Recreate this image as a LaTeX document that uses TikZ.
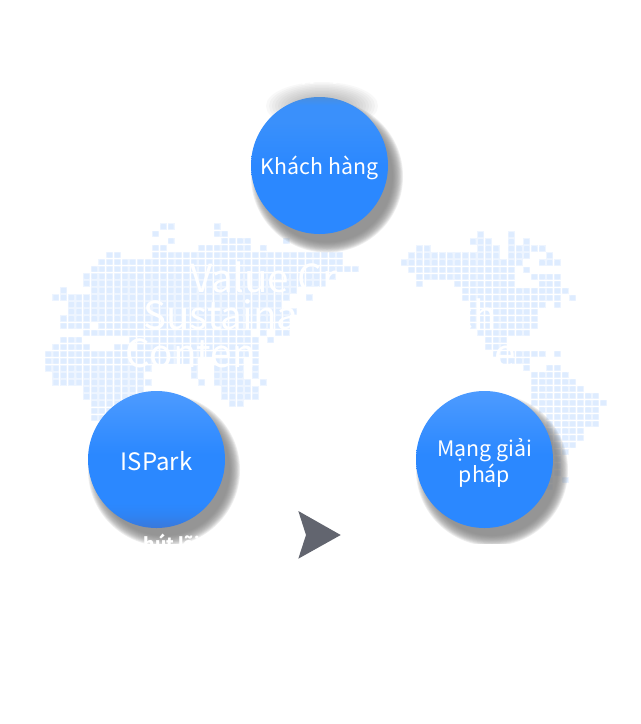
\documentclass[tikz,border=0pt]{standalone}
\usepackage{fontspec}
\setmainfont{Noto Sans CJK KR}
\definecolor{cellcore}{HTML}{DEECFF}
\definecolor{celledge}{HTML}{EEF5FF}
\definecolor{shadowgray}{HTML}{808080}
\definecolor{arrowgray}{HTML}{62656F}
\definecolor{ca}{HTML}{2B88FF}
\definecolor{cb}{HTML}{3A90FB}
\definecolor{cc}{HTML}{4D9BFF}
\definecolor{cd}{HTML}{4A8FDF}
\definecolor{ce}{HTML}{3A78DA}
\definecolor{cf}{HTML}{2E84F5}
\pgfdeclareverticalshading{ballTop}{100bp}{color(0bp)=(ca); color(50bp)=(ca); color(66bp)=(cb); color(72bp)=(cb); color(75bp)=(cd); color(100bp)=(cd)}
\pgfdeclareverticalshading{ballLeft}{100bp}{color(0bp)=(ce); color(25bp)=(ce); color(30bp)=(cf); color(34bp)=(ca); color(52bp)=(ca); color(75bp)=(cc); color(100bp)=(cc)}
\pgfdeclareverticalshading{ballRight}{100bp}{color(0bp)=(ca); color(52bp)=(ca); color(75bp)=(cc); color(100bp)=(cc)}
\tikzset{
  x=0.75pt,y=-0.75pt,
  ball/.style={circle,minimum size=102.75pt,inner sep=0pt,text=white,align=center,
    font=\fontsize{16}{20}\selectfont},
  ghost/.style={text=white,inner sep=0pt,anchor=base west,font=\fontsize{29}{34}\selectfont},
  ghostright/.style={ghost,anchor=base east},
  ghostsmall/.style={text=white,inner sep=0pt,anchor=base,font=\bfseries\fontsize{13}{16}\selectfont},
}
\newcommand{\lrow}[2]{\foreach \cc in {#2}{
  \fill[celledge] ({48.3+7.67*\cc-3.5},{226.7+7.08*#1-3.25}) rectangle ++(7,6.5);
  \fill[cellcore,rounded corners=0.5pt] ({48.3+7.67*\cc-2.7},{226.7+7.08*#1-2.5}) rectangle ++(5.4,5);}}
\newcommand{\rrow}[2]{\foreach \cc in {#2}{
  \fill[celledge] ({404+7.67*\cc-3.5},{234.7+7.01*#1-3.25}) rectangle ++(7,6.5);
  \fill[cellcore,rounded corners=0.5pt] ({404+7.67*\cc-2.7},{234.7+7.01*#1-2.5}) rectangle ++(5.4,5);}}
\newcommand{\softdisc}[2]{\foreach \k in {0,...,11}{
  \fill[shadowgray,opacity=0.13] (#1) circle ({#2+7.5-\k*10/11});}}
\newcommand{\down}[2]{\raisebox{-#1}[\height][\depth]{#2}}
\begin{document}
\begin{tikzpicture}
\fill[white] (0,0) rectangle (640,724);
\useasboundingbox (0,0) rectangle (640,724);
\lrow{0}{15,16,22}
\lrow{1}{14,22,23}
\lrow{2}{16,31}\lrow{2}{23,...,26}
\lrow{3}{14,15,28}\lrow{3}{20,...,26}
\lrow{4}{8,9}\lrow{4}{14,...,38}
\lrow{5}{7,...,38}
\lrow{6}{6,...,40}
\lrow{7}{5,...,37}
\lrow{8}{5,...,36}
\lrow{9}{2}\lrow{9}{6,...,32}
\lrow{10}{1,...,31}\lrow{10}{34}
\lrow{11}{3,...,30}
\lrow{12}{3,...,32}
\lrow{13}{2,...,31}
\lrow{14}{2,...,5}\lrow{14}{7,...,31}
\lrow{15}{5,...,26}\lrow{15}{28,30,31}
\lrow{16}{2,3,4,29}\lrow{16}{11,...,27}
\lrow{17}{1,...,5}\lrow{17}{9,10}\lrow{17}{12,...,27}
\lrow{18}{0,...,27}
\lrow{19}{0,...,19}\lrow{19}{22,...,25}\lrow{19}{27}
\lrow{20}{0,...,13}\lrow{20}{19,27}\lrow{20}{22,...,25}
\lrow{21}{1,...,12}\lrow{21}{19,27}\lrow{21}{22,...,25}
\lrow{22}{1,...,13}\lrow{22}{20,28}\lrow{22}{22,...,26}
\lrow{23}{5,...,12}\lrow{23}{23,...,27}
\lrow{24}{5,...,12}\lrow{24}{23,...,27}
\lrow{25}{6,...,9}\lrow{25}{24,25}
\lrow{26}{6,7,8}
\lrow{27}{6,7}
\rrow{0}{10,14}
\rrow{1}{9,10,11,14,16}
\rrow{2}{2,3,10,11,12}\rrow{2}{14,...,18}
\rrow{3}{1,...,12}\rrow{3}{14,15,16,19}
\rrow{4}{0,...,15}\rrow{4}{18,19,20}
\rrow{5}{1,...,14}\rrow{5}{16}
\rrow{6}{2,...,14}\rrow{6}{17,...,20}
\rrow{7}{2}\rrow{7}{7,...,14}\rrow{7}{18,19,20}
\rrow{8}{8,...,21}
\rrow{9}{8,...,20}\rrow{9}{22}
\rrow{10}{9,...,18}\rrow{10}{20}
\rrow{11}{9,...,17}
\rrow{12}{9,...,17}
\rrow{13}{9,...,17}
\rrow{14}{10,...,16}
\rrow{15}{11,12,13}
\rrow{16}{11,12,13}
\rrow{17}{12,...,18}\rrow{17}{20}
\rrow{18}{13,...,16}
\rrow{19}{16,19,20}
\rrow{20}{17,...,21}
\rrow{21}{17,...,22}
\rrow{22}{17,...,23}
\rrow{23}{17,...,25}
\rrow{24}{17,...,26}
\rrow{25}{18,...,25}
\rrow{26}{19,...,25}
\rrow{27}{19,...,25}
\rrow{28}{19,...,23}
\rrow{29}{19,...,23}
\rrow{30}{19,...,22}
\rrow{31}{19,20,21}
\rrow{32}{19,20}
\rrow{33}{19,20}
\rrow{34}{19,20}
\rrow{35}{19,21}
\rrow{36}{19}
\node[ghost] (g1) at (190,292) {Value Cr};
\node[ghost] (g2) at (143,329) {Sustaina};
\node[ghost] (g3) at (125,367) {Conten};
\node[ghostright] (g4) at (497,329) {ch};
\node[ghostright] (g5) at (516,367) {e};
\begin{scope}
  \clip (0,0) rectangle (640,543);
  \softdisc{327,176.5}{68.5}
  \softdisc{164,470}{68.5}
  \softdisc{492,470}{68.5}
\end{scope}
\foreach \k in {0,...,9}{
  \fill[shadowgray,opacity=0.05] (322,106) ellipse ({56-\k*3} and {24-\k*1.5});}
\node[ghostsmall] (t1) at (324,80) {hợp ty ti};
\node[ghostsmall] (t2) at (172,550) {hút lõi};
\node[ball,shading=ballTop] (kh) at (319.5,165.5) {\down{1.5pt}{Khách hàng}};
\node[ball,shading=ballLeft,font=\fontsize{18}{20}\selectfont] (is) at (156.5,459.5) {\down{1.5pt}{ISPark}};
\node[ball,shading=ballRight] (mg) at (484.5,459.5) {\down{2.6pt}{Mạng giải}\\\down{2.6pt}{pháp}};
\fill[arrowgray] (298.3,511) -- (340.7,535) -- (298.3,558.7) -- (306,535) -- cycle;
\end{tikzpicture}
\end{document}
